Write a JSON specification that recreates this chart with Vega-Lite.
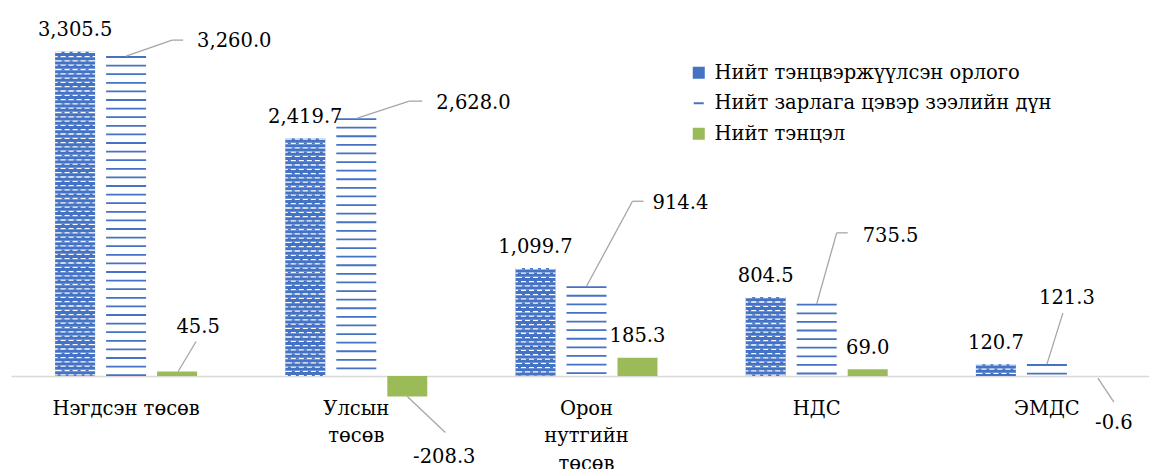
{
  "$schema": "https://vega.github.io/schema/vega-lite/v6.json",
  "width": 1149,
  "height": 469,
  "padding": 0,
  "autosize": {"type": "none"},
  "background": "#ffffff",
  "config": {
    "view": {"stroke": null},
    "font": "DejaVu Serif",
    "locale": {"number": {"decimal": ".", "thousands": ",", "grouping": [3], "currency": ["$", ""], "minus": "-"}},
    "axisX": {"domainColor": "#D9D9D9", "domainWidth": 1.5, "ticks": false, "grid": false, "labelFont": "DejaVu Serif", "labelFontSize": 19.5, "labelColor": "#000000", "labelPadding": 38, "labelAngle": 0, "labelLineHeight": 27.5, "labelLimit": 0, "labelBaseline": "alphabetic", "offset": -93, "labelOverlap": false},
    "legend": {"labelFont": "DejaVu Serif", "labelFontSize": 19.5, "labelColor": "#000000", "symbolSize": 100, "symbolStrokeWidth": 2, "rowPadding": 9.5, "labelOffset": 6, "padding": 0, "labelLimit": 0, "symbolOpacity": 1}
  },
  "data": {"values": [
    {"cat": "Нэгдсэн төсөв", "series": "Нийт тэнцвэржүүлсэн орлого", "value": 3305.5},
    {"cat": "Нэгдсэн төсөв", "series": "Нийт зарлага цэвэр зээлийн дүн", "value": 3260.0},
    {"cat": "Нэгдсэн төсөв", "series": "Нийт тэнцэл", "value": 45.5},
    {"cat": "Улсын төсөв", "series": "Нийт тэнцвэржүүлсэн орлого", "value": 2419.7},
    {"cat": "Улсын төсөв", "series": "Нийт зарлага цэвэр зээлийн дүн", "value": 2628.0},
    {"cat": "Улсын төсөв", "series": "Нийт тэнцэл", "value": -208.3},
    {"cat": "Орон нутгийн төсөв", "series": "Нийт тэнцвэржүүлсэн орлого", "value": 1099.7},
    {"cat": "Орон нутгийн төсөв", "series": "Нийт зарлага цэвэр зээлийн дүн", "value": 914.4},
    {"cat": "Орон нутгийн төсөв", "series": "Нийт тэнцэл", "value": 185.3},
    {"cat": "НДС", "series": "Нийт тэнцвэржүүлсэн орлого", "value": 804.5},
    {"cat": "НДС", "series": "Нийт зарлага цэвэр зээлийн дүн", "value": 735.5},
    {"cat": "НДС", "series": "Нийт тэнцэл", "value": 69.0},
    {"cat": "ЭМДС", "series": "Нийт тэнцвэржүүлсэн орлого", "value": 120.7},
    {"cat": "ЭМДС", "series": "Нийт зарлага цэвэр зээлийн дүн", "value": 121.3},
    {"cat": "ЭМДС", "series": "Нийт тэнцэл", "value": -0.6}
  ]},
  "layer": [
    {
      "transform": [{"filter": "datum.series == 'Нийт тэнцвэржүүлсэн орлого'"}],
      "mark": {"type": "bar", "fill": "#4472C4"},
      "encoding": {
        "x": {"field": "cat", "type": "nominal", "sort": ["Нэгдсэн төсөв", "Улсын төсөв", "Орон нутгийн төсөв", "НДС", "ЭМДС"], "title": null, "scale": {"range": [11, 1162], "paddingInner": 0, "paddingOuter": 0}, "axis": {"labelExpr": "datum.value == 'Нэгдсэн төсөв' ? datum.value : split(datum.value, ' ')"}},
        "xOffset": {"field": "series", "type": "nominal", "sort": ["Нийт тэнцвэржүүлсэн орлого", "Нийт зарлага цэвэр зээлийн дүн", "Нийт тэнцэл"], "scale": {"paddingInner": 0.216, "paddingOuter": 0.865}},
        "y": {"field": "value", "type": "quantitative", "scale": {"domain": [-948, 3832], "nice": false}, "axis": null},
        "y2": {"datum": 0}
      }
    },
    {
      "transform": [{"filter": "datum.series == 'Нийт тэнцвэржүүлсэн орлого'"}],
      "mark": {"type": "rule", "stroke": "#ffffff", "strokeWidth": 40, "strokeDash": [1.3, 3], "strokeCap": "butt"},
      "encoding": {
        "x": {"field": "cat", "type": "nominal", "sort": ["Нэгдсэн төсөв", "Улсын төсөв", "Орон нутгийн төсөв", "НДС", "ЭМДС"], "title": null},
        "xOffset": {"field": "series", "type": "nominal", "sort": ["Нийт тэнцвэржүүлсэн орлого", "Нийт зарлага цэвэр зээлийн дүн", "Нийт тэнцэл"]},
        "y": {"field": "value", "type": "quantitative", "axis": null},
        "y2": {"datum": 0}
      }
    },
    {"transform": [{"filter": "datum.series == 'Нийт тэнцвэржүүлсэн орлого'"}], "mark": {"type": "rule", "stroke": "#4472C4", "strokeWidth": 3, "strokeCap": "butt", "strokeDash": [1.5, 7.1], "xOffset": -63}, "encoding": {"x": {"field": "cat", "type": "nominal", "sort": ["Нэгдсэн төсөв", "Улсын төсөв", "Орон нутгийн төсөв", "НДС", "ЭМДС"], "title": null}, "y": {"field": "value", "type": "quantitative", "axis": null}, "y2": {"datum": 0}}},
    {"transform": [{"filter": "datum.series == 'Нийт тэнцвэржүүлсэн орлого'"}], "mark": {"type": "rule", "stroke": "#4472C4", "strokeWidth": 3, "strokeCap": "butt", "strokeDash": [1.5, 7.1], "xOffset": -55}, "encoding": {"x": {"field": "cat", "type": "nominal", "sort": ["Нэгдсэн төсөв", "Улсын төсөв", "Орон нутгийн төсөв", "НДС", "ЭМДС"], "title": null}, "y": {"field": "value", "type": "quantitative", "axis": null}, "y2": {"datum": 0}}},
    {"transform": [{"filter": "datum.series == 'Нийт тэнцвэржүүлсэн орлого'"}], "mark": {"type": "rule", "stroke": "#4472C4", "strokeWidth": 3, "strokeCap": "butt", "strokeDash": [1.5, 7.1], "xOffset": -47}, "encoding": {"x": {"field": "cat", "type": "nominal", "sort": ["Нэгдсэн төсөв", "Улсын төсөв", "Орон нутгийн төсөв", "НДС", "ЭМДС"], "title": null}, "y": {"field": "value", "type": "quantitative", "axis": null}, "y2": {"datum": 0}}},
    {"transform": [{"filter": "datum.series == 'Нийт тэнцвэржүүлсэн орлого'"}], "mark": {"type": "rule", "stroke": "#4472C4", "strokeWidth": 3, "strokeCap": "butt", "strokeDash": [1.5, 7.1], "xOffset": -39}, "encoding": {"x": {"field": "cat", "type": "nominal", "sort": ["Нэгдсэн төсөв", "Улсын төсөв", "Орон нутгийн төсөв", "НДС", "ЭМДС"], "title": null}, "y": {"field": "value", "type": "quantitative", "axis": null}, "y2": {"datum": 0}}},
    {"transform": [{"filter": "datum.series == 'Нийт тэнцвэржүүлсэн орлого'"}], "mark": {"type": "rule", "stroke": "#4472C4", "strokeWidth": 3, "strokeCap": "butt", "strokeDash": [1.5, 7.1], "strokeDashOffset": 4.3, "xOffset": -67}, "encoding": {"x": {"field": "cat", "type": "nominal", "sort": ["Нэгдсэн төсөв", "Улсын төсөв", "Орон нутгийн төсөв", "НДС", "ЭМДС"], "title": null}, "y": {"field": "value", "type": "quantitative", "axis": null}, "y2": {"datum": 0}}},
    {"transform": [{"filter": "datum.series == 'Нийт тэнцвэржүүлсэн орлого'"}], "mark": {"type": "rule", "stroke": "#4472C4", "strokeWidth": 3, "strokeCap": "butt", "strokeDash": [1.5, 7.1], "strokeDashOffset": 4.3, "xOffset": -59}, "encoding": {"x": {"field": "cat", "type": "nominal", "sort": ["Нэгдсэн төсөв", "Улсын төсөв", "Орон нутгийн төсөв", "НДС", "ЭМДС"], "title": null}, "y": {"field": "value", "type": "quantitative", "axis": null}, "y2": {"datum": 0}}},
    {"transform": [{"filter": "datum.series == 'Нийт тэнцвэржүүлсэн орлого'"}], "mark": {"type": "rule", "stroke": "#4472C4", "strokeWidth": 3, "strokeCap": "butt", "strokeDash": [1.5, 7.1], "strokeDashOffset": 4.3, "xOffset": -51}, "encoding": {"x": {"field": "cat", "type": "nominal", "sort": ["Нэгдсэн төсөв", "Улсын төсөв", "Орон нутгийн төсөв", "НДС", "ЭМДС"], "title": null}, "y": {"field": "value", "type": "quantitative", "axis": null}, "y2": {"datum": 0}}},
    {"transform": [{"filter": "datum.series == 'Нийт тэнцвэржүүлсэн орлого'"}], "mark": {"type": "rule", "stroke": "#4472C4", "strokeWidth": 3, "strokeCap": "butt", "strokeDash": [1.5, 7.1], "strokeDashOffset": 4.3, "xOffset": -43}, "encoding": {"x": {"field": "cat", "type": "nominal", "sort": ["Нэгдсэн төсөв", "Улсын төсөв", "Орон нутгийн төсөв", "НДС", "ЭМДС"], "title": null}, "y": {"field": "value", "type": "quantitative", "axis": null}, "y2": {"datum": 0}}},
    {"transform": [{"filter": "datum.series == 'Нийт тэнцвэржүүлсэн орлого'"}], "mark": {"type": "rule", "stroke": "#4472C4", "strokeWidth": 3, "strokeCap": "butt", "strokeDash": [1.5, 7.1], "strokeDashOffset": 4.3, "xOffset": -35}, "encoding": {"x": {"field": "cat", "type": "nominal", "sort": ["Нэгдсэн төсөв", "Улсын төсөв", "Орон нутгийн төсөв", "НДС", "ЭМДС"], "title": null}, "y": {"field": "value", "type": "quantitative", "axis": null}, "y2": {"datum": 0}}},
    {
      "transform": [{"filter": "datum.series == 'Нийт тэнцэл'"}],
      "mark": {"type": "bar", "fill": "#9BBB59"},
      "encoding": {
        "x": {"field": "cat", "type": "nominal", "sort": ["Нэгдсэн төсөв", "Улсын төсөв", "Орон нутгийн төсөв", "НДС", "ЭМДС"], "title": null},
        "xOffset": {"field": "series", "type": "nominal", "sort": ["Нийт тэнцвэржүүлсэн орлого", "Нийт зарлага цэвэр зээлийн дүн", "Нийт тэнцэл"]},
        "y": {"field": "value", "type": "quantitative", "axis": null},
        "y2": {"datum": 0}
      }
    },
    {
      "transform": [{"filter": "datum.series == 'Нийт зарлага цэвэр зээлийн дүн'"}],
      "mark": {"type": "rule", "stroke": "#4472C4", "strokeWidth": 40, "strokeDash": [1.8, 6.8], "strokeCap": "butt"},
      "encoding": {
        "x": {"field": "cat", "type": "nominal", "sort": ["Нэгдсэн төсөв", "Улсын төсөв", "Орон нутгийн төсөв", "НДС", "ЭМДС"], "title": null},
        "xOffset": {"field": "series", "type": "nominal", "sort": ["Нийт тэнцвэржүүлсэн орлого", "Нийт зарлага цэвэр зээлийн дүн", "Нийт тэнцэл"]},
        "y": {"field": "value", "type": "quantitative", "axis": null},
        "y2": {"datum": 0}
      }
    },
    {
      "transform": [{"filter": "false"}],
      "mark": {"type": "point", "filled": true, "strokeWidth": 2},
      "encoding": {
        "x": {"field": "cat", "type": "nominal", "sort": ["Нэгдсэн төсөв", "Улсын төсөв", "Орон нутгийн төсөв", "НДС", "ЭМДС"], "title": null},
        "y": {"field": "value", "type": "quantitative", "axis": null},
        "fill": {"field": "series", "type": "nominal", "scale": {"domain": ["Нийт тэнцвэржүүлсэн орлого", "Нийт зарлага цэвэр зээлийн дүн", "Нийт тэнцэл"], "range": ["#4472C4", "#4472C4", "#9BBB59"]}, "legend": {"title": null, "orient": "none", "legendX": 689, "legendY": 63}},
        "stroke": {"field": "series", "type": "nominal", "scale": {"domain": ["Нийт тэнцвэржүүлсэн орлого", "Нийт зарлага цэвэр зээлийн дүн", "Нийт тэнцэл"], "range": ["#4472C4", "#4472C4", "#9BBB59"]}, "legend": {"title": null, "orient": "none", "legendX": 689, "legendY": 63}},
        "shape": {"field": "series", "type": "nominal", "scale": {"domain": ["Нийт тэнцвэржүүлсэн орлого", "Нийт зарлага цэвэр зээлийн дүн", "Нийт тэнцэл"], "range": ["square", "stroke", "square"]}, "legend": {"title": null, "orient": "none", "legendX": 689, "legendY": 63}}
      }
    },
    {
      "transform": [{"filter": "datum.series == 'Нийт тэнцвэржүүлсэн орлого' || (datum.series == 'Нийт тэнцэл' && (datum.cat == 'Орон нутгийн төсөв' || datum.cat == 'НДС'))"}],
      "mark": {"type": "text", "align": "center", "baseline": "alphabetic", "dy": -15.5, "fontSize": 19.5, "fill": "#000000"},
      "encoding": {
        "x": {"field": "cat", "type": "nominal", "sort": ["Нэгдсэн төсөв", "Улсын төсөв", "Орон нутгийн төсөв", "НДС", "ЭМДС"], "title": null},
        "xOffset": {"field": "series", "type": "nominal", "sort": ["Нийт тэнцвэржүүлсэн орлого", "Нийт зарлага цэвэр зээлийн дүн", "Нийт тэнцэл"]},
        "y": {"field": "value", "type": "quantitative", "axis": null},
        "text": {"field": "value", "type": "quantitative", "format": ",.1f"}
      }
    },
    {
      "transform": [{"filter": "datum.cat == 'Нэгдсэн төсөв' && datum.series == 'Нийт зарлага цэвэр зээлийн дүн'"}],
      "mark": {"type": "rule", "stroke": "#A6A6A6", "strokeWidth": 1.3, "xOffset": 0, "yOffset": 0, "x2Offset": 46, "y2Offset": -16},
      "encoding": {"x": {"field": "cat", "type": "nominal", "sort": ["Нэгдсэн төсөв", "Улсын төсөв", "Орон нутгийн төсөв", "НДС", "ЭМДС"], "title": null}, "x2": {"field": "cat"}, "y": {"field": "value", "type": "quantitative", "axis": null}, "y2": {"field": "value"}}
    },
    {
      "transform": [{"filter": "datum.cat == 'Нэгдсэн төсөв' && datum.series == 'Нийт зарлага цэвэр зээлийн дүн'"}],
      "mark": {"type": "rule", "stroke": "#A6A6A6", "strokeWidth": 1.3, "xOffset": 46, "yOffset": -16, "x2Offset": 57, "y2Offset": -16},
      "encoding": {"x": {"field": "cat", "type": "nominal", "sort": ["Нэгдсэн төсөв", "Улсын төсөв", "Орон нутгийн төсөв", "НДС", "ЭМДС"], "title": null}, "x2": {"field": "cat"}, "y": {"field": "value", "type": "quantitative", "axis": null}, "y2": {"field": "value"}}
    },
    {
      "transform": [{"filter": "datum.cat == 'Нэгдсэн төсөв' && datum.series == 'Нийт зарлага цэвэр зээлийн дүн'"}],
      "mark": {"type": "text", "align": "left", "baseline": "alphabetic", "dx": 71, "dy": -9, "fontSize": 19.5, "fill": "#000000"},
      "encoding": {"x": {"field": "cat", "type": "nominal", "sort": ["Нэгдсэн төсөв", "Улсын төсөв", "Орон нутгийн төсөв", "НДС", "ЭМДС"], "title": null}, "y": {"field": "value", "type": "quantitative", "axis": null}, "text": {"field": "value", "type": "quantitative", "format": ",.1f"}}
    },
    {
      "transform": [{"filter": "datum.cat == 'Улсын төсөв' && datum.series == 'Нийт зарлага цэвэр зээлийн дүн'"}],
      "mark": {"type": "rule", "stroke": "#A6A6A6", "strokeWidth": 1.3, "xOffset": 1, "yOffset": 0, "x2Offset": 53, "y2Offset": -17},
      "encoding": {"x": {"field": "cat", "type": "nominal", "sort": ["Нэгдсэн төсөв", "Улсын төсөв", "Орон нутгийн төсөв", "НДС", "ЭМДС"], "title": null}, "x2": {"field": "cat"}, "y": {"field": "value", "type": "quantitative", "axis": null}, "y2": {"field": "value"}}
    },
    {
      "transform": [{"filter": "datum.cat == 'Улсын төсөв' && datum.series == 'Нийт зарлага цэвэр зээлийн дүн'"}],
      "mark": {"type": "rule", "stroke": "#A6A6A6", "strokeWidth": 1.3, "xOffset": 53, "yOffset": -17, "x2Offset": 66, "y2Offset": -17},
      "encoding": {"x": {"field": "cat", "type": "nominal", "sort": ["Нэгдсэн төсөв", "Улсын төсөв", "Орон нутгийн төсөв", "НДС", "ЭМДС"], "title": null}, "x2": {"field": "cat"}, "y": {"field": "value", "type": "quantitative", "axis": null}, "y2": {"field": "value"}}
    },
    {
      "transform": [{"filter": "datum.cat == 'Улсын төсөв' && datum.series == 'Нийт зарлага цэвэр зээлийн дүн'"}],
      "mark": {"type": "text", "align": "left", "baseline": "alphabetic", "dx": 80, "dy": -9, "fontSize": 19.5, "fill": "#000000"},
      "encoding": {"x": {"field": "cat", "type": "nominal", "sort": ["Нэгдсэн төсөв", "Улсын төсөв", "Орон нутгийн төсөв", "НДС", "ЭМДС"], "title": null}, "y": {"field": "value", "type": "quantitative", "axis": null}, "text": {"field": "value", "type": "quantitative", "format": ",.1f"}}
    },
    {
      "transform": [{"filter": "datum.cat == 'Орон нутгийн төсөв' && datum.series == 'Нийт зарлага цэвэр зээлийн дүн'"}],
      "mark": {"type": "rule", "stroke": "#A6A6A6", "strokeWidth": 1.3, "xOffset": 0, "yOffset": 0, "x2Offset": 46, "y2Offset": -85},
      "encoding": {"x": {"field": "cat", "type": "nominal", "sort": ["Нэгдсэн төсөв", "Улсын төсөв", "Орон нутгийн төсөв", "НДС", "ЭМДС"], "title": null}, "x2": {"field": "cat"}, "y": {"field": "value", "type": "quantitative", "axis": null}, "y2": {"field": "value"}}
    },
    {
      "transform": [{"filter": "datum.cat == 'Орон нутгийн төсөв' && datum.series == 'Нийт зарлага цэвэр зээлийн дүн'"}],
      "mark": {"type": "rule", "stroke": "#A6A6A6", "strokeWidth": 1.3, "xOffset": 46, "yOffset": -85, "x2Offset": 57, "y2Offset": -85},
      "encoding": {"x": {"field": "cat", "type": "nominal", "sort": ["Нэгдсэн төсөв", "Улсын төсөв", "Орон нутгийн төсөв", "НДС", "ЭМДС"], "title": null}, "x2": {"field": "cat"}, "y": {"field": "value", "type": "quantitative", "axis": null}, "y2": {"field": "value"}}
    },
    {
      "transform": [{"filter": "datum.cat == 'Орон нутгийн төсөв' && datum.series == 'Нийт зарлага цэвэр зээлийн дүн'"}],
      "mark": {"type": "text", "align": "left", "baseline": "alphabetic", "dx": 66, "dy": -77, "fontSize": 19.5, "fill": "#000000"},
      "encoding": {"x": {"field": "cat", "type": "nominal", "sort": ["Нэгдсэн төсөв", "Улсын төсөв", "Орон нутгийн төсөв", "НДС", "ЭМДС"], "title": null}, "y": {"field": "value", "type": "quantitative", "axis": null}, "text": {"field": "value", "type": "quantitative", "format": ",.1f"}}
    },
    {
      "transform": [{"filter": "datum.cat == 'НДС' && datum.series == 'Нийт зарлага цэвэр зээлийн дүн'"}],
      "mark": {"type": "rule", "stroke": "#A6A6A6", "strokeWidth": 1.3, "xOffset": 0, "yOffset": 0, "x2Offset": 20, "y2Offset": -71},
      "encoding": {"x": {"field": "cat", "type": "nominal", "sort": ["Нэгдсэн төсөв", "Улсын төсөв", "Орон нутгийн төсөв", "НДС", "ЭМДС"], "title": null}, "x2": {"field": "cat"}, "y": {"field": "value", "type": "quantitative", "axis": null}, "y2": {"field": "value"}}
    },
    {
      "transform": [{"filter": "datum.cat == 'НДС' && datum.series == 'Нийт зарлага цэвэр зээлийн дүн'"}],
      "mark": {"type": "rule", "stroke": "#A6A6A6", "strokeWidth": 1.3, "xOffset": 20, "yOffset": -71, "x2Offset": 31, "y2Offset": -71},
      "encoding": {"x": {"field": "cat", "type": "nominal", "sort": ["Нэгдсэн төсөв", "Улсын төсөв", "Орон нутгийн төсөв", "НДС", "ЭМДС"], "title": null}, "x2": {"field": "cat"}, "y": {"field": "value", "type": "quantitative", "axis": null}, "y2": {"field": "value"}}
    },
    {
      "transform": [{"filter": "datum.cat == 'НДС' && datum.series == 'Нийт зарлага цэвэр зээлийн дүн'"}],
      "mark": {"type": "text", "align": "left", "baseline": "alphabetic", "dx": 46, "dy": -62, "fontSize": 19.5, "fill": "#000000"},
      "encoding": {"x": {"field": "cat", "type": "nominal", "sort": ["Нэгдсэн төсөв", "Улсын төсөв", "Орон нутгийн төсөв", "НДС", "ЭМДС"], "title": null}, "y": {"field": "value", "type": "quantitative", "axis": null}, "text": {"field": "value", "type": "quantitative", "format": ",.1f"}}
    },
    {
      "transform": [{"filter": "datum.cat == 'ЭМДС' && datum.series == 'Нийт зарлага цэвэр зээлийн дүн'"}],
      "mark": {"type": "rule", "stroke": "#A6A6A6", "strokeWidth": 1.3, "xOffset": 0, "yOffset": 0, "x2Offset": 16, "y2Offset": -51},
      "encoding": {"x": {"field": "cat", "type": "nominal", "sort": ["Нэгдсэн төсөв", "Улсын төсөв", "Орон нутгийн төсөв", "НДС", "ЭМДС"], "title": null}, "x2": {"field": "cat"}, "y": {"field": "value", "type": "quantitative", "axis": null}, "y2": {"field": "value"}}
    },
    {
      "transform": [{"filter": "datum.cat == 'ЭМДС' && datum.series == 'Нийт зарлага цэвэр зээлийн дүн'"}],
      "mark": {"type": "text", "align": "center", "baseline": "alphabetic", "dx": 20, "dy": -60, "fontSize": 19.5, "fill": "#000000"},
      "encoding": {"x": {"field": "cat", "type": "nominal", "sort": ["Нэгдсэн төсөв", "Улсын төсөв", "Орон нутгийн төсөв", "НДС", "ЭМДС"], "title": null}, "y": {"field": "value", "type": "quantitative", "axis": null}, "text": {"field": "value", "type": "quantitative", "format": ",.1f"}}
    },
    {
      "transform": [{"filter": "datum.cat == 'Нэгдсэн төсөв' && datum.series == 'Нийт тэнцэл'"}],
      "mark": {"type": "rule", "stroke": "#A6A6A6", "strokeWidth": 1.3, "xOffset": 52, "yOffset": 0, "x2Offset": 70, "y2Offset": -30},
      "encoding": {"x": {"field": "cat", "type": "nominal", "sort": ["Нэгдсэн төсөв", "Улсын төсөв", "Орон нутгийн төсөв", "НДС", "ЭМДС"], "title": null}, "x2": {"field": "cat"}, "y": {"field": "value", "type": "quantitative", "axis": null}, "y2": {"field": "value"}}
    },
    {
      "transform": [{"filter": "datum.cat == 'Нэгдсэн төсөв' && datum.series == 'Нийт тэнцэл'"}],
      "mark": {"type": "text", "align": "center", "baseline": "alphabetic", "dx": 72, "dy": -38.5, "fontSize": 19.5, "fill": "#000000"},
      "encoding": {"x": {"field": "cat", "type": "nominal", "sort": ["Нэгдсэн төсөв", "Улсын төсөв", "Орон нутгийн төсөв", "НДС", "ЭМДС"], "title": null}, "y": {"field": "value", "type": "quantitative", "axis": null}, "text": {"field": "value", "type": "quantitative", "format": ",.1f"}}
    },
    {
      "transform": [{"filter": "datum.cat == 'Улсын төсөв' && datum.series == 'Нийт тэнцэл'"}],
      "mark": {"type": "rule", "stroke": "#A6A6A6", "strokeWidth": 1.3, "xOffset": 51, "yOffset": 0, "x2Offset": 89, "y2Offset": 36},
      "encoding": {"x": {"field": "cat", "type": "nominal", "sort": ["Нэгдсэн төсөв", "Улсын төсөв", "Орон нутгийн төсөв", "НДС", "ЭМДС"], "title": null}, "x2": {"field": "cat"}, "y": {"field": "value", "type": "quantitative", "axis": null}, "y2": {"field": "value"}}
    },
    {
      "transform": [{"filter": "datum.cat == 'Улсын төсөв' && datum.series == 'Нийт тэнцэл'"}],
      "mark": {"type": "text", "align": "center", "baseline": "alphabetic", "dx": 88, "dy": 66.6, "fontSize": 19.5, "fill": "#000000"},
      "encoding": {"x": {"field": "cat", "type": "nominal", "sort": ["Нэгдсэн төсөв", "Улсын төсөв", "Орон нутгийн төсөв", "НДС", "ЭМДС"], "title": null}, "y": {"field": "value", "type": "quantitative", "axis": null}, "text": {"field": "value", "type": "quantitative", "format": ",.1f"}}
    },
    {
      "transform": [{"filter": "datum.cat == 'ЭМДС' && datum.series == 'Нийт тэнцэл'"}],
      "mark": {"type": "rule", "stroke": "#A6A6A6", "strokeWidth": 1.3, "xOffset": 51, "yOffset": 2, "x2Offset": 67, "y2Offset": 26},
      "encoding": {"x": {"field": "cat", "type": "nominal", "sort": ["Нэгдсэн төсөв", "Улсын төсөв", "Орон нутгийн төсөв", "НДС", "ЭМДС"], "title": null}, "x2": {"field": "cat"}, "y": {"field": "value", "type": "quantitative", "axis": null}, "y2": {"field": "value"}}
    },
    {
      "transform": [{"filter": "datum.cat == 'ЭМДС' && datum.series == 'Нийт тэнцэл'"}],
      "mark": {"type": "text", "align": "center", "baseline": "alphabetic", "dx": 67, "dy": 53, "fontSize": 19.5, "fill": "#000000"},
      "encoding": {"x": {"field": "cat", "type": "nominal", "sort": ["Нэгдсэн төсөв", "Улсын төсөв", "Орон нутгийн төсөв", "НДС", "ЭМДС"], "title": null}, "y": {"field": "value", "type": "quantitative", "axis": null}, "text": {"field": "value", "type": "quantitative", "format": ",.1f"}}
    }
  ]
}
